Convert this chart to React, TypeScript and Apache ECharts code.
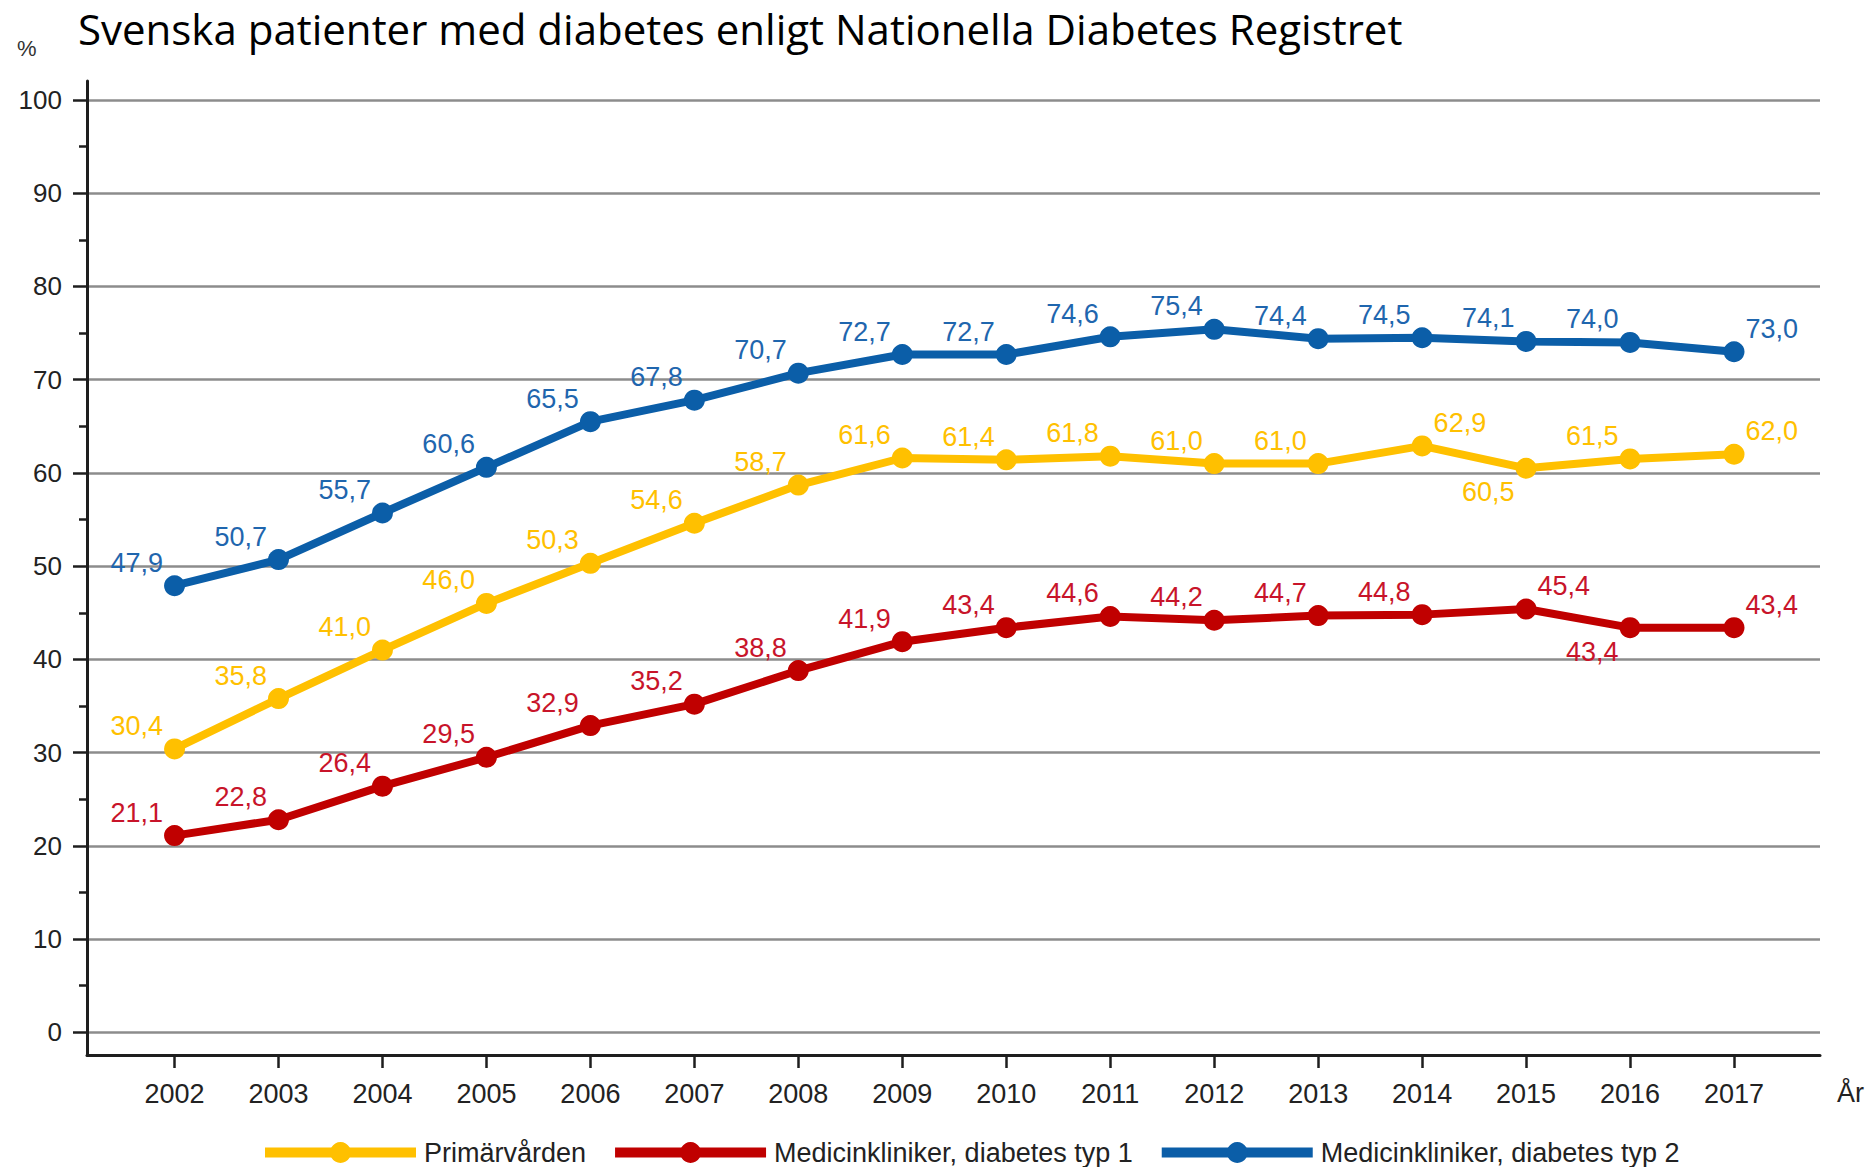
import React, { useEffect, useRef } from 'react';
import * as echarts from 'echarts';

// ---- data ----
const years = [2002, 2003, 2004, 2005, 2006, 2007, 2008, 2009, 2010, 2011, 2012, 2013, 2014, 2015, 2016, 2017];
const primarvarden = [30.4, 35.8, 41.0, 46.0, 50.3, 54.6, 58.7, 61.6, 61.4, 61.8, 61.0, 61.0, 62.9, 60.5, 61.5, 62.0];
const diabetesTyp1 = [21.1, 22.8, 26.4, 29.5, 32.9, 35.2, 38.8, 41.9, 43.4, 44.6, 44.2, 44.7, 44.8, 45.4, 43.4, 43.4];
const diabetesTyp2 = [47.9, 50.7, 55.7, 60.6, 65.5, 67.8, 70.7, 72.7, 72.7, 74.6, 75.4, 74.4, 74.5, 74.1, 74.0, 73.0];
const seriesNames = ['Primärvården', 'Medicinkliniker, diabetes typ 1', 'Medicinkliniker, diabetes typ 2'];
const titleText = 'Svenska patienter med diabetes enligt Nationella Diabetes Registret';
const yUnit = '%';
const xUnit = 'År';

// label placement (index -> side); default is left-above
const placePrimar: Record<number, string> = { 12: 'right', 13: 'below', 15: 'right' };
const placeTyp1: Record<number, string> = { 13: 'right', 14: 'below', 15: 'right' };
const placeTyp2: Record<number, string> = { 15: 'right' };

const FONT = "'Liberation Sans', Arial, sans-serif";
const X_MIN = 2001.158;
const X_MAX = 2017.827;

const fmt = (v: number) => v.toFixed(1).replace('.', ',');

function labelFor(place: string | undefined, color: string) {
  const base = { show: true, color, fontSize: 27, fontFamily: FONT, distance: 1 };
  if (place === 'right') return { ...base, position: 'right', offset: [0, -23] };
  if (place === 'below') return { ...base, position: 'left', offset: [0, 24] };
  return { ...base, position: 'left', offset: [0, -23] };
}

function makeSeries(name: string, values: number[], lineColor: string, labelColor: string, place: Record<number, string>) {
  return {
    name,
    type: 'line',
    xAxisIndex: 0,
    yAxisIndex: 0,
    symbol: 'circle',
    symbolSize: 21,
    showAllSymbol: true,
    lineStyle: { color: lineColor, width: 8 },
    itemStyle: { color: lineColor },
    emphasis: { disabled: true },
    data: years.map((y, i) => ({
      value: [y, values[i]],
      label: { ...labelFor(place[i], labelColor), formatter: (p: any) => fmt(p.value[1]) },
    })),
  };
}

export default function App() {
  const ref = useRef<HTMLDivElement>(null);
  useEffect(() => {
    const chart = echarts.init(ref.current!, undefined, { renderer: 'svg' });
    const option: any = {
      animation: false,
      backgroundColor: '#ffffff',
      textStyle: { fontFamily: FONT },
      grid: [
        { left: 87, right: 47, top: 100, bottom: 134.7, containLabel: false },
        { left: 87, right: 47, top: 81, bottom: 112, containLabel: false },
      ],
      xAxis: [
        { type: 'value', gridIndex: 0, min: X_MIN, max: X_MAX, show: false },
        {
          type: 'value',
          gridIndex: 1,
          min: X_MIN,
          max: X_MAX,
          axisLine: { show: true, lineStyle: { color: '#1e1e1e', width: 3 } },
          axisTick: { show: true, length: 13, customValues: years, lineStyle: { color: '#1e1e1e', width: 2.5 } },
          axisLabel: {
            show: true,
            customValues: years,
            formatter: (v: number) => String(Math.round(v)),
            fontSize: 27,
            color: '#222',
            margin: 25,
            fontFamily: FONT,
          },
          splitLine: { show: false },
        },
      ],
      yAxis: [
        {
          type: 'value',
          gridIndex: 0,
          min: 0,
          max: 100,
          interval: 10,
          axisLine: { show: false },
          axisTick: { show: true, length: 14, lineStyle: { color: '#1e1e1e', width: 2.5 } },
          minorTick: { show: true, splitNumber: 2, length: 8, lineStyle: { color: '#1e1e1e', width: 2.5 } },
          axisLabel: { fontSize: 26, color: '#222', margin: 25, fontFamily: FONT },
          splitLine: { show: true, lineStyle: { color: '#8c8c8c', width: 2.5 } },
          minorSplitLine: { show: false },
        },
        {
          type: 'value',
          gridIndex: 1,
          min: 0,
          max: 1,
          axisLine: { show: true, lineStyle: { color: '#1e1e1e', width: 3 } },
          axisTick: { show: false },
          axisLabel: { show: false },
          splitLine: { show: false },
        },
      ],
      legend: {
        left: 255,
        top: 1134,
        itemWidth: 151,
        itemHeight: 26,
        itemGap: 24,
        selectedMode: false,
        lineStyle: { width: 10 },
        textStyle: { fontSize: 27, color: '#222', fontFamily: FONT, padding: [0, 0, 0, 3] },
        data: seriesNames,
      },
      graphic: [
        {
          type: 'text',
          left: 78,
          top: 7,
          style: { text: titleText, fontSize: 42, fontFamily: "'Open Sans', sans-serif", fill: '#000' },
        },
        {
          type: 'text',
          left: 17,
          top: 37,
          style: { text: yUnit, fontSize: 22, fontFamily: FONT, fill: '#333' },
        },
        {
          type: 'text',
          left: 1837,
          top: 1079,
          style: { text: xUnit, fontSize: 27, fontFamily: FONT, fill: '#222' },
        },
      ],
      series: [
        makeSeries(seriesNames[0], primarvarden, '#FFC000', '#FFC000', placePrimar),
        makeSeries(seriesNames[1], diabetesTyp1, '#C00000', '#C8142A', placeTyp1),
        makeSeries(seriesNames[2], diabetesTyp2, '#0B5EA8', '#1F66AE', placeTyp2),
      ],
    };
    chart.setOption(option);
    return () => chart.dispose();
  }, []);
  return (
    <div
      ref={ref}
      style={{ position: 'absolute', left: 0, top: 0, width: 1867, height: 1167, background: '#fff' }}
    />
  );
}
